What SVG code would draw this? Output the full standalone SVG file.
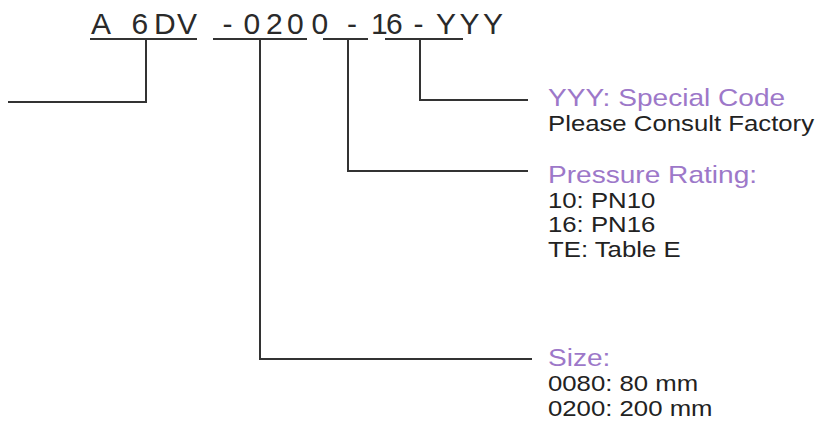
<svg xmlns="http://www.w3.org/2000/svg" width="818" height="421" viewBox="0 0 818 421">
<style>
.t{font-family:"Liberation Sans",Arial,sans-serif;}
.title{font-size:30px;fill:#2a2a2a;}
.h{font-size:24px;fill:#9d78c9;}
.b{font-size:22px;fill:#222;}
.ln{fill:none;stroke:#333;stroke-width:2;}
</style>
<rect width="818" height="421" fill="#fff"/>
<g id="title">
<text class="t title" x="91 131.5 154 177 222.5 243.5 266 287 311.5 347 371 386 413.5 436 459.5 483" y="34">A6DV-0200-16-YYY</text>
<path class="ln" d="M90,39H197M213,39H307M323,39H368M385,39H463"/>
</g>
<g id="connectors">
<path class="ln" d="M146,39V102H8"/>
<path class="ln" d="M260,39V359H532"/>
<path class="ln" d="M348,39V171H528"/>
<path class="ln" d="M420,39V100H528"/>
</g>
<g id="special" transform="translate(548,0) scale(1.17,1)">
<text class="t h" x="0" y="106">YYY: Special Code</text>
<text class="t b" x="0" y="131">Please Consult Factory</text>
</g>
<g id="pressure" transform="translate(548,0) scale(1.17,1)">
<text class="t h" x="0" y="183">Pressure Rating:</text>
<text class="t b" x="0" y="208">10: PN10</text>
<text class="t b" x="0" y="232">16: PN16</text>
<text class="t b" x="0" y="257">TE: Table E</text>
</g>
<g id="size" transform="translate(548,0) scale(1.17,1)">
<text class="t h" x="0" y="366">Size:</text>
<text class="t b" x="0" y="391">0080: 80 mm</text>
<text class="t b" x="0" y="416">0200: 200 mm</text>
</g>
</svg>
